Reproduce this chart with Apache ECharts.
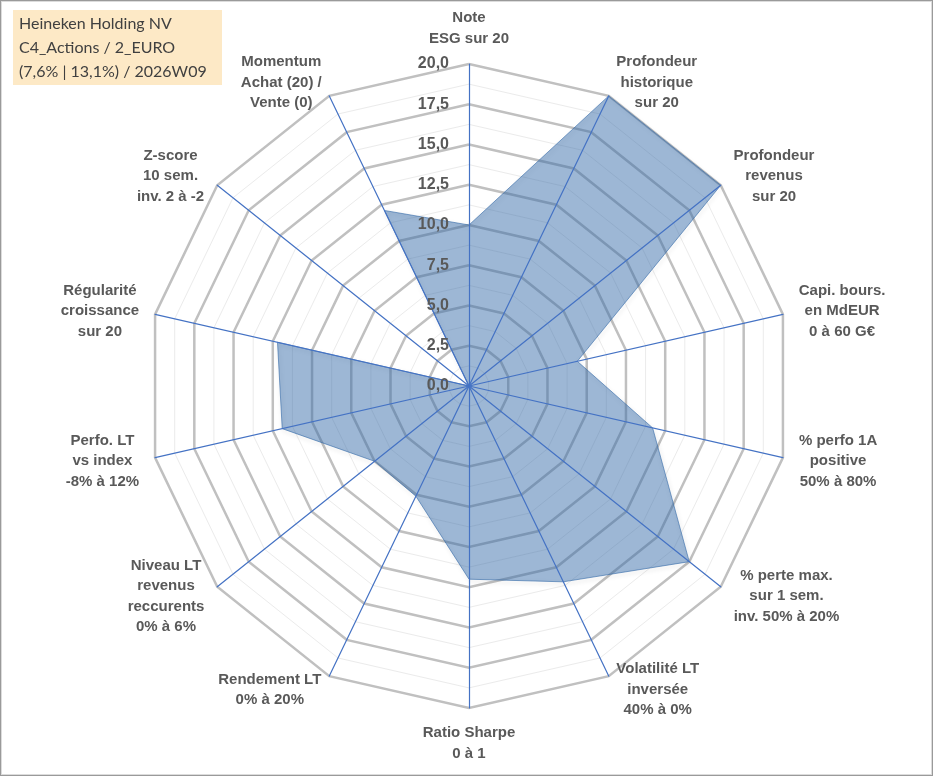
<!DOCTYPE html>
<html>
<head>
<meta charset="utf-8">
<script src="https://cdn.jsdelivr.net/npm/echarts@6/dist/echarts.min.js"></script>
<style>
    html, body { margin: 0; padding: 0; background: #fff; }
    #wrap { position: relative; width: 933px; height: 776px; }
    #main { width: 933px; height: 776px; }
    #frame {
        position: absolute; left: 0; top: 0; width: 933px; height: 776px;
        box-sizing: border-box; border: 1px solid #9a9a9a;
        box-shadow: inset 0 0 0 1px #dcdcdc; pointer-events: none;
    }
</style>
</head>
<body>
<div id="wrap">
    <div id="main"></div>
    <div id="frame"></div>
</div>
<script>
// critères, dans l'ordre horaire depuis le haut
var criteres = [
    'Note\nESG sur 20',
    'Profondeur\nhistorique\nsur 20',
    'Profondeur\nrevenus\nsur 20',
    'Capi. bours.\nen MdEUR\n0 à 60 G€',
    '% perfo 1A\npositive\n50% à 80%',
    '% perte max.\nsur 1 sem.\ninv. 50% à 20%',
    'Volatilité LT\ninversée\n40% à 0%',
    'Ratio Sharpe\n0 à 1',
    'Rendement LT\n0% à 20%',
    'Niveau LT\nrevenus\nreccurents\n0% à 6%',
    'Perfo. LT\nvs index\n-8% à 12%',
    'Régularité\ncroissance\nsur 20',
    'Z-score\n10 sem.\ninv. 2 à -2',
    'Momentum\nAchat (20) /\nVente (0)'
];
// notes sur 20
var notes = [10, 20, 20, 6.9, 11.7, 17.5, 13.5, 12, 7.6, 7.5, 11.9, 12.2, 0, 12.1];
var titre = ['Heineken Holding NV', 'C4_Actions / 2_EURO', '(7,6% | 13,1%) / 2026W09'];
var noteMax = 20;
var pas = 2.5;

var centre = [469, 386];
var rayon = 322;
var police = 'Liberation Sans';

// echarts tourne dans le sens anti-horaire : on inverse l'ordre après le premier axe
var ordre = [0];
for (var i = criteres.length - 1; i > 0; i--) ordre.push(i);

var indicateurs = ordre.map(function (k) {
    return { name: criteres[k], max: noteMax, min: 0 };
});
var valeurs = ordre.map(function (k) { return notes[k]; });

// largeur de chaque bloc de texte pour centrer les lignes
var ctx = document.createElement('canvas').getContext('2d');
ctx.font = 'bold 15px ' + police;
var rich = {};
criteres.forEach(function (nom, k) {
    var w = 0;
    nom.split('\n').forEach(function (l) { w = Math.max(w, ctx.measureText(l).width); });
    rich['l' + k] = {
        width: Math.ceil(w) + 2,
        align: 'center',
        fontFamily: police,
        fontWeight: 'bold',
        fontSize: 15,
        lineHeight: 20.5,
        color: '#595959'
    };
});

var hidden = { show: false };
var baseRadar = {
    center: centre,
    radius: rayon,
    startAngle: 90,
    shape: 'polygon',
    min: 0,
    max: noteMax,
    indicator: indicateurs
};

var myChart = echarts.init(document.getElementById('main'));
var option = {
    animation: false,
    backgroundColor: '#fff',
    title: {
        text: titre.join('\n'),
        left: 13,
        top: 10,
        padding: [2, 6, 1, 6],
        backgroundColor: '#fde9c6',
        textStyle: {
            fontFamily: 'Lato',
            fontSize: 16,
            fontWeight: 'normal',
            color: '#404040',
            lineHeight: 24,
            width: 197
        }
    },
    radar: [
        // lignes secondaires
        Object.assign({}, baseRadar, {
            splitNumber: noteMax / pas * 2,
            axisName: hidden,
            axisLine: hidden,
            splitArea: hidden,
            splitLine: { lineStyle: { color: '#ebebeb', width: 1 } },
            z: 0
        }),
        // lignes principales + noms
        Object.assign({}, baseRadar, {
            splitNumber: noteMax / pas,
            nameGap: 15,
            axisName: {
                formatter: function (nom) {
                    var k = criteres.indexOf(nom);
                    return nom.split('\n').map(function (l) {
                        return '{l' + k + '|' + l + '}';
                    }).join('\n');
                },
                rich: rich
            },
            axisLine: hidden,
            splitArea: hidden,
            splitLine: { lineStyle: { color: '#c0c0c0', width: 2.5 } },
            z: 1
        }),
        // axes bleus au-dessus de la surface
        Object.assign({}, baseRadar, {
            splitNumber: noteMax / pas,
            axisName: hidden,
            splitArea: hidden,
            splitLine: hidden,
            axisLine: { lineStyle: { color: '#4472c4', width: 1.2 } },
            z: 3
        })
    ],
    polar: { center: centre, radius: rayon },
    angleAxis: { show: false, min: 0, max: 360, startAngle: 90 },
    radiusAxis: {
        min: 0,
        max: noteMax,
        interval: pas,
        z: 10,
        axisLine: hidden,
        axisTick: hidden,
        splitLine: hidden,
        axisLabel: {
            inside: true,
            margin: 20,
            fontFamily: police,
            fontWeight: 'bold',
            fontSize: 16,
            color: '#595959',
            formatter: function (v) { return v.toFixed(1).replace('.', ','); }
        }
    },
    series: [{
        type: 'radar',
        radarIndex: 1,
        z: 2,
        symbol: 'none',
        silent: true,
        lineStyle: {
            color: 'rgba(48,104,166,0.6)',
            width: 1,
            shadowBlur: 4,
            shadowOffsetX: 1,
            shadowOffsetY: 2,
            shadowColor: 'rgba(0,0,0,0.3)'
        },
        areaStyle: { color: 'rgba(48,104,166,0.68)' },
        data: [{ value: valeurs, name: titre[0] }]
    }]
};
myChart.setOption(option);
</script>
</body>
</html>
